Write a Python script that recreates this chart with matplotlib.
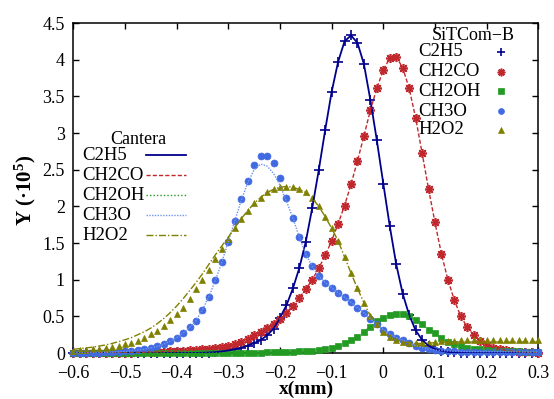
import numpy as np
import matplotlib
matplotlib.use("Agg")
import matplotlib.pyplot as plt
from matplotlib.lines import Line2D

plt.rcParams['font.family'] = ['Liberation Serif', 'DejaVu Serif']
plt.rcParams['mathtext.fontset'] = 'custom'
plt.rcParams['mathtext.rm'] = 'Liberation Serif'
plt.rcParams['mathtext.it'] = 'Liberation Serif:italic'
plt.rcParams['mathtext.bf'] = 'Liberation Serif:bold'

# sampling grid (mm)
x = np.round(np.arange(73) * 0.0125 - 0.6, 4)

# SiTCom-B (markers), Y * 1e5
c2h5_sit = [0, 0, 0, 0, 0, 0, 0, 0, 0, 0,
            0, 0, 0, 0, 0, 0, 0, 0, 0, 0,
            0.003, 0.006, 0.012, 0.022, 0.035, 0.05, 0.072, 0.10, 0.135, 0.175,
            0.24, 0.33, 0.48, 0.65, 0.88, 1.16, 1.52, 1.98, 2.49, 3.04,
            3.56, 3.97, 4.25, 4.33, 4.23, 3.94, 3.45, 2.90, 2.31, 1.73,
            1.21, 0.81, 0.52, 0.31, 0.18, 0.10, 0.055, 0.03, 0.015, 0.008,
            0.004, 0, 0, 0, 0, 0, 0, 0, 0, 0,
            0, 0, 0]
ch2co_sit = [0.0, 0.0, 0.001, 0.001, 0.002, 0.002, 0.003, 0.004, 0.005, 0.006,
             0.008, 0.010, 0.012, 0.015, 0.018, 0.022, 0.026, 0.032, 0.038, 0.045,
             0.052, 0.060, 0.070, 0.082, 0.097, 0.12, 0.155, 0.195, 0.24, 0.285,
             0.34, 0.40, 0.47, 0.55, 0.645, 0.755, 0.87, 1.0, 1.155, 1.33,
             1.53, 1.76, 2.01, 2.30, 2.62, 2.96, 3.31, 3.61, 3.86, 4.02,
             4.04, 3.89, 3.61, 3.21, 2.73, 2.24, 1.78, 1.35, 1.0, 0.72,
             0.50, 0.35, 0.245, 0.165, 0.11, 0.075, 0.05, 0.035, 0.025, 0.018,
             0.012, 0.008, 0.005]
ch2oh_sit = [0, 0, 0, 0, 0, 0, 0, 0, 0, 0,
             0, 0, 0, 0, 0, 0, 0, 0, 0, 0,
             0, 0, 0.001, 0.001, 0.002, 0.003, 0.003, 0.004, 0.005, 0.006,
             0.008, 0.010, 0.012, 0.015, 0.018, 0.022, 0.027, 0.033, 0.042, 0.055,
             0.072, 0.095, 0.13, 0.18, 0.22, 0.29, 0.36, 0.43, 0.48, 0.52,
             0.535, 0.53, 0.505, 0.45, 0.39, 0.32, 0.27, 0.20, 0.155, 0.12,
             0.095, 0.075, 0.06, 0.05, 0.042, 0.036, 0.031, 0.027, 0.024, 0.021,
             0.019, 0.017, 0.015]
ch3o_sit = [0.001, 0.002, 0.003, 0.004, 0.006, 0.008, 0.012, 0.016, 0.022, 0.03,
            0.04, 0.05, 0.07, 0.09, 0.12, 0.16, 0.21, 0.27, 0.35, 0.44,
            0.59, 0.77, 0.99, 1.24, 1.52, 1.80, 2.10, 2.35, 2.56, 2.68,
            2.69, 2.59, 2.39, 2.12, 1.84, 1.58, 1.35, 1.18, 1.05, 0.96,
            0.89, 0.82, 0.76, 0.69, 0.62, 0.55, 0.47, 0.39, 0.32, 0.26,
            0.21, 0.175, 0.135, 0.10, 0.075, 0.055, 0.042, 0.033, 0.027, 0.023,
            0.020, 0.019, 0.018, 0.018, 0.017, 0.017, 0.016, 0.016, 0.016, 0.015,
            0.015, 0.015, 0.015]
h2o2_sit = [0.03, 0.035, 0.042, 0.05, 0.058, 0.068, 0.08, 0.097, 0.12, 0.14,
            0.17, 0.21, 0.255, 0.30, 0.37, 0.45, 0.53, 0.62, 0.74, 0.87,
            1.0, 1.13, 1.28, 1.42, 1.56, 1.70, 1.83, 1.94, 2.04, 2.12,
            2.19, 2.23, 2.26, 2.27, 2.26, 2.23, 2.19, 2.11, 2.0, 1.86,
            1.70, 1.53, 1.31, 1.09, 0.88, 0.685, 0.505, 0.39, 0.29, 0.215,
            0.18, 0.155, 0.14, 0.13, 0.13, 0.14, 0.155, 0.16, 0.165, 0.17,
            0.175, 0.178, 0.178, 0.178, 0.178, 0.178, 0.178, 0.178, 0.178, 0.178,
            0.178, 0.178, 0.178]

# Cantera (lines), Y * 1e5
c2h5_can = list(c2h5_sit)
ch2co_can = list(ch2co_sit)
ch2oh_can = list(ch2oh_sit)
ch3o_can = [0.001, 0.002, 0.003, 0.004, 0.006, 0.008, 0.012, 0.016, 0.022, 0.03,
            0.04, 0.05, 0.07, 0.09, 0.12, 0.16, 0.21, 0.27, 0.35, 0.44,
            0.59, 0.77, 0.99, 1.24, 1.52, 1.80, 2.08, 2.32, 2.50, 2.575,
            2.55, 2.45, 2.29, 2.07, 1.84, 1.58, 1.35, 1.18, 1.05, 0.96,
            0.89, 0.82, 0.76, 0.69, 0.62, 0.55, 0.47, 0.39, 0.32, 0.26,
            0.21, 0.175, 0.135, 0.10, 0.075, 0.055, 0.042, 0.033, 0.027, 0.023,
            0.020, 0.019, 0.018, 0.018, 0.017, 0.017, 0.016, 0.016, 0.016, 0.015,
            0.015, 0.015, 0.015]
h2o2_can = [0.05, 0.06, 0.07, 0.08, 0.095, 0.11, 0.13, 0.155, 0.18, 0.21,
            0.25, 0.29, 0.34, 0.40, 0.47, 0.55, 0.64, 0.74, 0.85, 0.96,
            1.08, 1.21, 1.34, 1.46, 1.58, 1.71, 1.83, 1.94, 2.04, 2.12,
            2.19, 2.23, 2.26, 2.27, 2.26, 2.23, 2.19, 2.11, 2.0, 1.86,
            1.70, 1.53, 1.31, 1.09, 0.88, 0.685, 0.505, 0.39, 0.29, 0.215,
            0.18, 0.155, 0.14, 0.13, 0.13, 0.135, 0.14, 0.145, 0.15, 0.15,
            0.15, 0.15, 0.15, 0.15, 0.15, 0.15, 0.15, 0.15, 0.15, 0.15,
            0.15, 0.15, 0.15]

species = ['C2H5', 'CH2CO', 'CH2OH', 'CH3O', 'H2O2']
sit_data = [c2h5_sit, ch2co_sit, ch2oh_sit, ch3o_sit, h2o2_sit]
can_data = [c2h5_can, ch2co_can, ch2oh_can, ch3o_can, h2o2_can]

colors = ['#00008b', '#c0282d', '#239b23', '#4169e1', '#808000']
line_styles = ['-', (0, (3, 1.5)), (0, (1, 1.5)), (0, (1, 1)), (0, (5, 1.5, 1, 1.5))]
line_colors = ['#00008b', '#c0282d', '#239b23', '#6f94f0', '#808000']
line_widths = [1.3, 1.0, 1.0, 1.0, 1.0]
markers = ['+', (8, 2, 0), 's', 'o', '^']
msizes = [6.5, 6.5, 5.0, 5.0, 5.0]
mew = [1.2, 1.2, 0.5, 0.5, 0.5]

fig = plt.figure(figsize=(5.54, 3.99), dpi=100)
ax = fig.add_axes([73.3 / 554, 1 - 353 / 399, 465 / 554, 330 / 399])

for i in range(5):
    ax.plot(x, sit_data[i], linestyle='none', marker=markers[i], ms=msizes[i],
            mew=mew[i], color=colors[i], mec=colors[i], clip_on=False, zorder=3)
    ax.plot(x, can_data[i], linestyle=line_styles[i], color=line_colors[i],
            lw=line_widths[i], zorder=4)

ax.set_xlim(-0.6, 0.3)
ax.set_ylim(0, 4.5)
ax.set_xticks(np.arange(-0.6, 0.31, 0.1))
ax.set_xticklabels(['−0.6', '−0.5', '−0.4', '−0.3', '−0.2', '−0.1', '0', '0.1', '0.2', '0.3'])
ax.set_yticks(np.arange(0, 4.51, 0.5))
ax.set_yticklabels(['0', '0.5', '1', '1.5', '2', '2.5', '3', '3.5', '4', '4.5'])
ax.tick_params(direction='in', length=4.5, width=1.0, top=True, right=True,
               labelsize=13)
ax.tick_params(axis='x', pad=9)
ax.tick_params(axis='y', pad=6)
for s in ax.spines.values():
    s.set_linewidth(1.1)

fig.text(306 / 554, 1 - 389 / 399, 'x(mm)', ha='center', va='center',
         fontsize=14, fontweight='bold')
fig.text(25 / 554, 1 - 190 / 399, r'Y (·10$^{\mathbf{5}}$)', ha='center', va='center',
         rotation=90, fontsize=15, fontweight='bold')

# gnuplot-style keys
tr = ax.transAxes
def ax_xy(px, py):
    return ((px - 73.3) / 465.0, (353 - py) / 330.0)

# Cantera key
tx, ty = ax_xy(138, 139)
ax.text(tx, ty, 'Cantera', transform=tr, ha='center', va='center', fontsize=13)
for i, (name, py) in enumerate(zip(species, [155, 175, 195, 215, 235])):
    lx, ly = ax_xy(82, py)
    ax.text(lx, ly, name, transform=tr, ha='left', va='center', fontsize=13.5)
    x0, _ = ax_xy(146, py)
    x1, _ = ax_xy(186, py)
    ax.add_line(Line2D([x0, x1], [ly, ly], transform=tr, color=line_colors[i],
                       linestyle=line_styles[i], lw=line_widths[i]))

# SiTCom-B key
tx, ty = ax_xy(473, 35)
ax.text(tx, ty, 'SiTCom−B', transform=tr, ha='center', va='center', fontsize=13)
for i, (name, py) in enumerate(zip(species, [52, 72, 91, 111, 130])):
    lx, ly = ax_xy(418, py)
    ax.text(lx, ly, name, transform=tr, ha='left', va='center', fontsize=13.5)
    mx, _ = ax_xy(501, py)
    ax.add_line(Line2D([mx], [ly], transform=tr, linestyle='none', marker=markers[i],
                       ms=msizes[i] * 0.85, mew=mew[i], color=colors[i], mec=colors[i]))

fig.savefig('out.png', dpi=100)
